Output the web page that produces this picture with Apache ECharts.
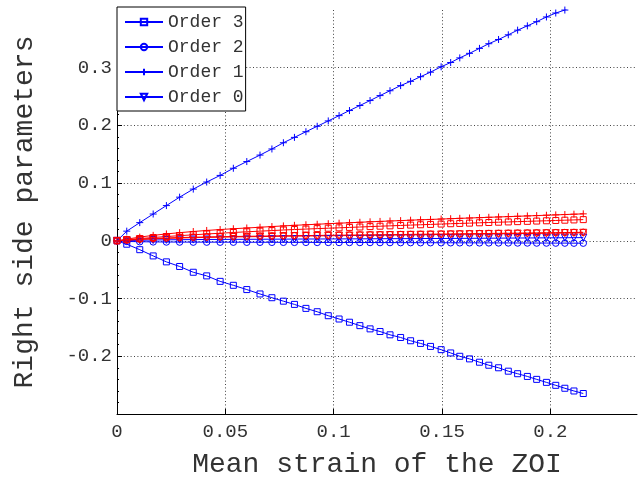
<!DOCTYPE html>
<html>
<head>
<meta charset="utf-8">
<script src="https://cdn.jsdelivr.net/npm/echarts@6/dist/echarts.min.js"></script>
<style>
html,body{margin:0;padding:0;background:#fff;}
#chart{width:643px;height:484px;}
</style>
</head>
<body>
<div id="chart"></div>
<script>
// Mean strain of the ZOI (x values shared by all curves)
const strain = [0, 0.0045, 0.0105, 0.0167, 0.0228, 0.0289, 0.0352, 0.0414, 0.0476, 0.0537, 0.0599, 0.066, 0.0715, 0.0768, 0.0819, 0.0872, 0.0924, 0.0975, 0.1025, 0.1073, 0.1121, 0.1168, 0.1214, 0.126, 0.1309, 0.1355, 0.1401, 0.1447, 0.1496, 0.154, 0.1582, 0.1627, 0.1673, 0.1716, 0.1761, 0.1806, 0.1849, 0.1894, 0.1937, 0.1982, 0.2025, 0.2067, 0.2109, 0.2152];

// Blue curves
const blueOrder3 = [0, -0.0058, -0.0153, -0.0261, -0.0364, -0.0444, -0.0544, -0.0607, -0.0702, -0.077, -0.0844, -0.092, -0.0985, -0.1045, -0.1101, -0.117, -0.1228, -0.1297, -0.1354, -0.141, -0.1469, -0.1525, -0.1571, -0.1628, -0.1674, -0.1731, -0.1777, -0.1829, -0.1885, -0.1942, -0.2, -0.2045, -0.2103, -0.2155, -0.2199, -0.2258, -0.2302, -0.2349, -0.24, -0.2452, -0.2503, -0.2554, -0.2601, -0.2645];
const blueOrder2 = [0, -0.001, -0.0015, -0.0018, -0.002, -0.0021, -0.0022, -0.0022, -0.0023, -0.0023, -0.0024, -0.0024, -0.0025, -0.0025, -0.0026, -0.0026, -0.0027, -0.0027, -0.0028, -0.0028, -0.0029, -0.0029, -0.003, -0.003, -0.0031, -0.0031, -0.0032, -0.0032, -0.0033, -0.0033, -0.0034, -0.0034, -0.0035, -0.0035, -0.0036, -0.0036, -0.0037, -0.0037, -0.0038, -0.0038, -0.0039, -0.0039, -0.004, -0.004];
const blueOrder1 = [0, 0.0168, 0.0316, 0.0465, 0.0611, 0.0757, 0.0897, 0.1019, 0.1134, 0.1258, 0.1374, 0.1486, 0.1592, 0.17, 0.1793, 0.1891, 0.1985, 0.2078, 0.217, 0.2258, 0.2345, 0.2431, 0.2517, 0.2601, 0.269, 0.2764, 0.2844, 0.2923, 0.3016, 0.309, 0.317, 0.3249, 0.3335, 0.3416, 0.3489, 0.357, 0.3651, 0.3725, 0.3798, 0.3879, 0.3948, 0.3999, 0.41, 0.418];
const blueOrder0 = [0, 0.0005, 0.001, 0.0015, 0.0018, 0.002, 0.0022, 0.0024, 0.0025, 0.0026, 0.0027, 0.0028, 0.0029, 0.003, 0.0031, 0.0032, 0.0032, 0.0033, 0.0034, 0.0035, 0.0035, 0.0036, 0.0037, 0.0038, 0.0038, 0.0039, 0.004, 0.0041, 0.0041, 0.0042, 0.0043, 0.0044, 0.0045, 0.0046, 0.0047, 0.0048, 0.0049, 0.005, 0.0051, 0.0052, 0.0053, 0.0054, 0.0055, 0.0056];

// Red curves
const redOrder3 = [0, 0.002, 0.004, 0.0058, 0.0075, 0.009, 0.0105, 0.0119, 0.0132, 0.0145, 0.0157, 0.0168, 0.0178, 0.0188, 0.0196, 0.0204, 0.0212, 0.0219, 0.0226, 0.0233, 0.024, 0.0247, 0.0254, 0.026, 0.0267, 0.0273, 0.0279, 0.0285, 0.0291, 0.0297, 0.0302, 0.0307, 0.0313, 0.0318, 0.0323, 0.0328, 0.0333, 0.0338, 0.0343, 0.0348, 0.0353, 0.0358, 0.0363, 0.0368];
const redOrder2 = [0, 0.0015, 0.003, 0.004, 0.005, 0.0057, 0.0063, 0.0068, 0.0072, 0.0076, 0.0079, 0.0082, 0.0085, 0.0088, 0.009, 0.0092, 0.0094, 0.0096, 0.0098, 0.01, 0.0102, 0.0104, 0.0106, 0.0108, 0.011, 0.0112, 0.0114, 0.0116, 0.0118, 0.012, 0.0122, 0.0124, 0.0126, 0.0128, 0.013, 0.0132, 0.0134, 0.0136, 0.0138, 0.014, 0.0142, 0.0144, 0.0146, 0.0148];
const redOrder1 = [0, 0.003, 0.0065, 0.0095, 0.012, 0.0142, 0.0162, 0.018, 0.0196, 0.021, 0.0223, 0.0236, 0.0248, 0.0259, 0.0269, 0.0279, 0.0288, 0.0297, 0.0306, 0.0314, 0.0322, 0.033, 0.0337, 0.0344, 0.0351, 0.0358, 0.0365, 0.0371, 0.0378, 0.0384, 0.039, 0.0396, 0.0402, 0.0408, 0.0414, 0.042, 0.0426, 0.0432, 0.0438, 0.0444, 0.045, 0.0456, 0.0462, 0.0468];
const redOrder0 = [0, 0.001, 0.0025, 0.0035, 0.0043, 0.005, 0.0055, 0.006, 0.0064, 0.0068, 0.0071, 0.0074, 0.0077, 0.008, 0.0082, 0.0084, 0.0086, 0.0088, 0.009, 0.0092, 0.0094, 0.0096, 0.0098, 0.01, 0.0102, 0.0104, 0.0106, 0.0108, 0.011, 0.0112, 0.0114, 0.0116, 0.0118, 0.012, 0.0122, 0.0124, 0.0126, 0.0128, 0.013, 0.0132, 0.0134, 0.0136, 0.0138, 0.014];

const legendNames = ['Order 3', 'Order 2', 'Order 1', 'Order 0'];

const BLUE = '#0000ff';
const RED = '#ff0000';
const FONT = '"Liberation Mono", "DejaVu Sans Mono", monospace';
const SYM = {
  square: 'rect',
  circle: 'circle',
  plus: 'path://M5,0L5,10M0,5L10,5',
  tri: 'path://M0,0L10,0L5,9Z'
};
const SIZE = {square: 6, circle: 6.5, plus: 7, tri: 7};

function mk(name, ys, color, marker) {
  return {
    name: name,
    type: 'line',
    data: strain.map((x, i) => [x, ys[i]]),
    symbol: SYM[marker],
    symbolSize: SIZE[marker],
    showAllSymbol: true,
    clip: true,
    animation: false,
    lineStyle: {color: color, width: 1},
    itemStyle: {color: 'rgba(0,0,0,0)', borderColor: color, borderWidth: 1}
  };
}

const series = [
  mk(legendNames[0], blueOrder3, BLUE, 'square'),
  mk(legendNames[1], blueOrder2, BLUE, 'circle'),
  mk(legendNames[2], blueOrder1, BLUE, 'plus'),
  mk(legendNames[3], blueOrder0, BLUE, 'tri'),
  mk('red 3', redOrder3, RED, 'square'),
  mk('red 2', redOrder2, RED, 'circle'),
  mk('red 1', redOrder1, RED, 'plus'),
  mk('red 0', redOrder0, RED, 'tri')
];

const chart = echarts.init(document.getElementById('chart'), null, {renderer: 'canvas'});
const gridLine = {show: true, lineStyle: {color: '#444', width: 1, type: [1, 2.4]}};
chart.setOption({
  backgroundColor: '#fff',
  animation: false,
  grid: {left: 117, right: 6, top: 10, bottom: 64, containLabel: false},
  legend: {
    data: legendNames,
    orient: 'vertical',
    left: 117,
    top: 7,
    padding: [6, 2, 5, 7],
    itemGap: 7,
    itemWidth: 38,
    itemHeight: 8,
    backgroundColor: '#fff',
    borderColor: '#000',
    borderWidth: 1,
    borderRadius: 0,
    textStyle: {fontFamily: FONT, fontSize: 18, color: '#333', lineHeight: 18, padding: [0, 0, 0, 0]}
  },
  xAxis: {
    type: 'value',
    min: 0, max: 0.24, interval: 0.05,
    name: 'Mean strain of the ZOI',
    nameLocation: 'middle',
    nameGap: 37,
    nameTextStyle: {fontFamily: FONT, fontSize: 28, color: '#333'},
    axisLine: {show: true, onZero: false, lineStyle: {color: '#000', width: 1}},
    axisTick: {show: true, inside: true, length: 5, lineStyle: {color: '#000'}},
    axisLabel: {fontFamily: FONT, fontSize: 19, color: '#333', margin: 8, showMaxLabel: false},
    splitLine: Object.assign({showMaxLine: false, showMinLine: false}, gridLine)
  },
  yAxis: {
    type: 'value',
    min: -0.3, max: 0.4, interval: 0.1,
    name: 'Right side parameters',
    nameLocation: 'middle',
    nameGap: 78,
    nameTextStyle: {fontFamily: FONT, fontSize: 28, color: '#333'},
    axisLine: {show: true, onZero: false, lineStyle: {color: '#000', width: 1}},
    axisTick: {show: true, inside: true, length: 5, lineStyle: {color: '#000'}},
    minorTick: {show: true, splitNumber: 5, length: 2, lineStyle: {color: '#000'}},
    axisLabel: {fontFamily: FONT, fontSize: 19, color: '#333', margin: 5, showMaxLabel: false, showMinLabel: false},
    splitLine: Object.assign({showMaxLine: false, showMinLine: false}, gridLine)
  },
  series: series
});
</script>
</body>
</html>
